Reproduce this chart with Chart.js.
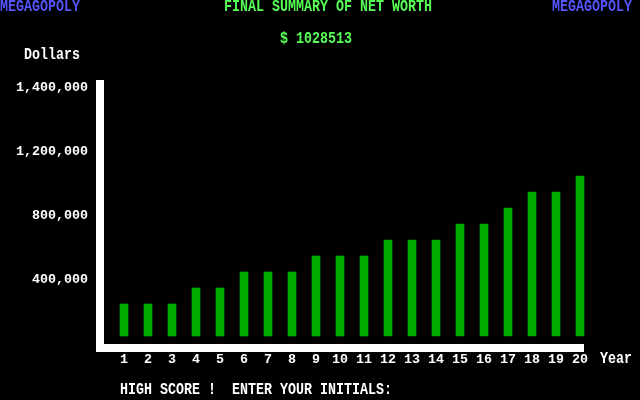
<!DOCTYPE html>
<html>
<head>
<meta charset="utf-8">
<title>Megagopoly - Final Summary</title>
<script src="https://cdn.jsdelivr.net/npm/chart.js@4/dist/chart.umd.min.js"></script>
<style>
  html, body { margin: 0; padding: 0; background: #000; }
  #chart-container { width: 640px; height: 400px; }
</style>
</head>
<body>
<div id="chart-container"><canvas id="myChart" width="640" height="400"></canvas></div>
<script>
var years = ['1','2','3','4','5','6','7','8','9','10','11','12','13','14','15','16','17','18','19','20'];
var netWorth = [200000,200000,200000,300000,300000,400000,400000,400000,500000,500000,
  500000,600000,600000,600000,700000,700000,800000,900000,900000,1000000];
var tickValues = [400000, 800000, 1200000, 1600000];
var tickLabels = ['400,000', '800,000', '1,200,000', '1,400,000'];
var finalWorth = 1028513;

var blue = '#5555FF';
var green = '#55FF55';
var white = '#FFFFFF';
var barGreen = '#00AA00';
var fontFamily = "'Liberation Mono', 'DejaVu Sans Mono', monospace";
var fontSize = 13.33;

function txt(ctx, s, x, y, color) {
  ctx.save();
  ctx.font = 'bold ' + fontSize + 'px ' + fontFamily;
  ctx.fillStyle = color;
  ctx.textAlign = 'left';
  ctx.textBaseline = 'middle';
  ctx.translate(x, y);
  ctx.scale(1, 1.2);
  ctx.fillText(s, 0, 0);
  ctx.restore();
}

// white L shaped axis + screen texts
var screenPlugin = {
  id: 'screen',
  beforeDatasetsDraw: function(chart) {
    var ctx = chart.ctx;
    var a = chart.chartArea;
    ctx.save();
    ctx.fillStyle = white;
    ctx.fillRect(a.left - 16, a.top, 8, a.bottom + 8 - a.top);
    ctx.fillRect(a.left - 16, a.bottom, a.right - 8 - (a.left - 16), 8);
    ctx.restore();
  },
  afterDraw: function(chart) {
    var ctx = chart.ctx;
    txt(ctx, 'MEGAGOPOLY', 0, 7, blue);
    txt(ctx, 'MEGAGOPOLY', 552, 7, blue);
    txt(ctx, 'FINAL SUMMARY OF NET WORTH', 224, 7, green);
    txt(ctx, '$ ' + finalWorth, 280, 39, green);
    txt(ctx, 'Dollars', 24, 55, white);
    txt(ctx, 'Year', 600, 359, white);
    txt(ctx, 'HIGH SCORE !  ENTER YOUR INITIALS:', 120, 390, white);
  }
};

var tickFont = { family: fontFamily, size: fontSize, weight: 'bold' };

var ctx = document.getElementById('myChart');
var myChart = new Chart(ctx, {
  type: 'bar',
  data: {
    labels: years,
    datasets: [{
      label: 'Net worth',
      data: netWorth,
      backgroundColor: barGreen,
      borderWidth: 0,
      barThickness: 8,
      xAxisID: 'x',
      yAxisID: 'y'
    }]
  },
  options: {
    responsive: false,
    maintainAspectRatio: false,
    animation: false,
    layout: { padding: { top: 80, right: 48, bottom: 0, left: 0 } },
    plugins: {
      legend: { display: false },
      tooltip: { enabled: false }
    },
    scales: {
      x: {
        grid: { display: false },
        border: { display: false },
        ticks: { color: white, font: tickFont, padding: 0, autoSkip: false, maxRotation: 0 },
        afterFit: function(s) { s.height = 56; }
      },
      y: {
        display: false,
        min: -50000,
        max: 1600000
      },
      yLab: {
        position: 'left',
        min: 0,
        max: 1650000,
        grid: { display: false },
        border: { display: false },
        afterBuildTicks: function(s) {
          s.ticks = tickValues.map(function(v) { return { value: v }; });
        },
        ticks: {
          color: white,
          font: tickFont,
          padding: 16,
          callback: function(v, i) { return tickLabels[i]; }
        },
        afterFit: function(s) { s.width = 112; }
      }
    }
  },
  plugins: [screenPlugin]
});
</script>
</body>
</html>
